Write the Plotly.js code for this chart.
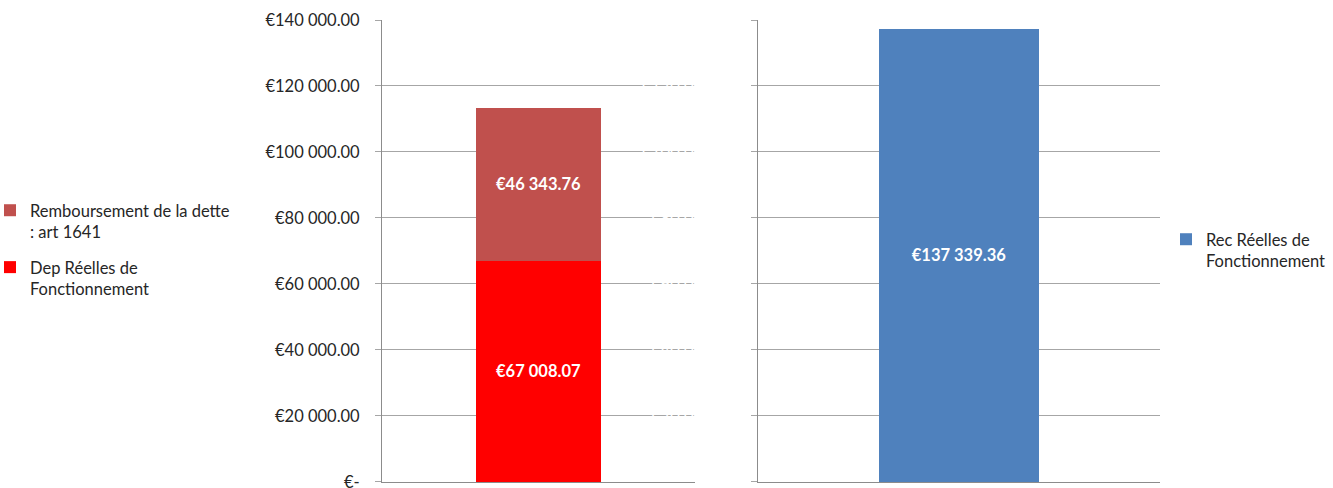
<!DOCTYPE html>
<html>
<head>
<meta charset="utf-8">
<script src="https://cdn.plot.ly/plotly-3.0.1.min.js"></script>
<style>html,body{margin:0;padding:0;background:#fff;}#chart{width:1333px;height:488px;}</style>
</head>
<body>
<div id="chart"></div>
<script>
// Data
const leftCategory = ["Dépenses"];
const rightCategory = ["Recettes"];
const depReelles = [67008.07];
const remboursement = [46343.76];
const recReelles = [137339.36];
const tickValues = [0, 20000, 40000, 60000, 80000, 100000, 120000, 140000];
const tickLabels = ["€-", "€20 000.00", "€40 000.00", "€60 000.00", "€80 000.00", "€100 000.00", "€120 000.00", "€140 000.00"];
const seriesNames = ["Dep Réelles de<br>Fonctionnement", "Remboursement de la dette<br>: art 1641", "Rec Réelles de<br>Fonctionnement"];

function euro(v) {
  const parts = v.toFixed(2).split(".");
  const intPart = parts[0].replace(/\B(?=(\d{3})+(?!\d))/g, " ");
  return "€" + intPart + "." + parts[1];
}

const FONT = "Lato, 'Open Sans', sans-serif";
const TXT = "#262626";
const labelFont = {family: FONT, size: 16.5, color: "#ffffff", weight: "bold"};

const traces = [
  {type: "bar", x: leftCategory, y: depReelles, name: seriesNames[0], legendgroup: "a", legendrank: 2,
   marker: {color: "#FF0000"}, width: 0.4, xaxis: "x", yaxis: "y", legend: "legend",
   text: depReelles.map(euro), textposition: "inside", insidetextanchor: "middle",
   textangle: 0, textfont: labelFont, constraintext: "none", hoverinfo: "skip"},
  {type: "bar", x: leftCategory, y: remboursement, name: seriesNames[1], legendgroup: "b", legendrank: 1,
   marker: {color: "#C0504D"}, width: 0.4, xaxis: "x", yaxis: "y", legend: "legend",
   text: remboursement.map(euro), textposition: "inside", insidetextanchor: "middle",
   textangle: 0, textfont: labelFont, constraintext: "none", hoverinfo: "skip"},
  {type: "bar", x: rightCategory, y: recReelles, name: seriesNames[2],
   marker: {color: "#4F81BD"}, width: 0.4, xaxis: "x2", yaxis: "y2", legend: "legend2",
   text: recReelles.map(euro), textposition: "inside", insidetextanchor: "middle",
   textangle: 0, textfont: labelFont, constraintext: "none", hoverinfo: "skip"}
];

const yTop = 1 - 20 / 488, yBot = 1 - 482 / 488;
const axisCommon = {
  range: [-40, 140000], tickvals: tickValues, ticktext: tickLabels,
  showgrid: true, gridcolor: "#A6A6A6", gridwidth: 1,
  showline: true, linecolor: "#8C8C8C", linewidth: 1,
  ticks: "outside", ticklen: 6, tickcolor: "#A6A6A6",
  zeroline: false, fixedrange: true, ticklabelstandoff: 12,
  ticklabeloverflow: "allow", automargin: false,
  domain: [yBot, yTop]
};
const xCommon = {showticklabels: false, showline: true, linecolor: "#8C8C8C", linewidth: 1,
  ticks: "", showgrid: false, zeroline: false, fixedrange: true, automargin: false};

const layout = {
  width: 1333, height: 488,
  margin: {l: 0, r: 0, t: 0, b: 0, autoexpand: false},
  paper_bgcolor: "#ffffff", plot_bgcolor: "#ffffff",
  barmode: "stack",
  font: {family: FONT, size: 16.5, color: TXT},
  showlegend: true,
  xaxis: Object.assign({}, xCommon, {domain: [382 / 1333, 695 / 1333], anchor: "y"}),
  xaxis2: Object.assign({}, xCommon, {domain: [758 / 1333, 1160 / 1333], anchor: "y2"}),
  yaxis: Object.assign({}, axisCommon, {anchor: "x", tickfont: {family: FONT, size: 16.5, color: TXT}}),
  yaxis2: Object.assign({}, axisCommon, {anchor: "x2", tickfont: {family: FONT, size: 16.5, color: "#ffffff"}}),
  legend: {x: -10 / 1333, y: 1 - 193 / 488, xanchor: "left", yanchor: "top",
    traceorder: "grouped", valign: "top", bgcolor: "rgba(0,0,0,0)",
    font: {family: FONT, size: 16.5, color: TXT}, itemwidth: 30, tracegroupgap: 11},
  legend2: {x: 1166 / 1333, y: 1 - 222 / 488, xanchor: "left", yanchor: "top",
    valign: "top", bgcolor: "rgba(0,0,0,0)",
    font: {family: FONT, size: 16.5, color: TXT}, itemwidth: 30}
};

Plotly.newPlot("chart", traces, layout, {displayModeBar: false, staticPlot: true});
</script>
</body>
</html>
